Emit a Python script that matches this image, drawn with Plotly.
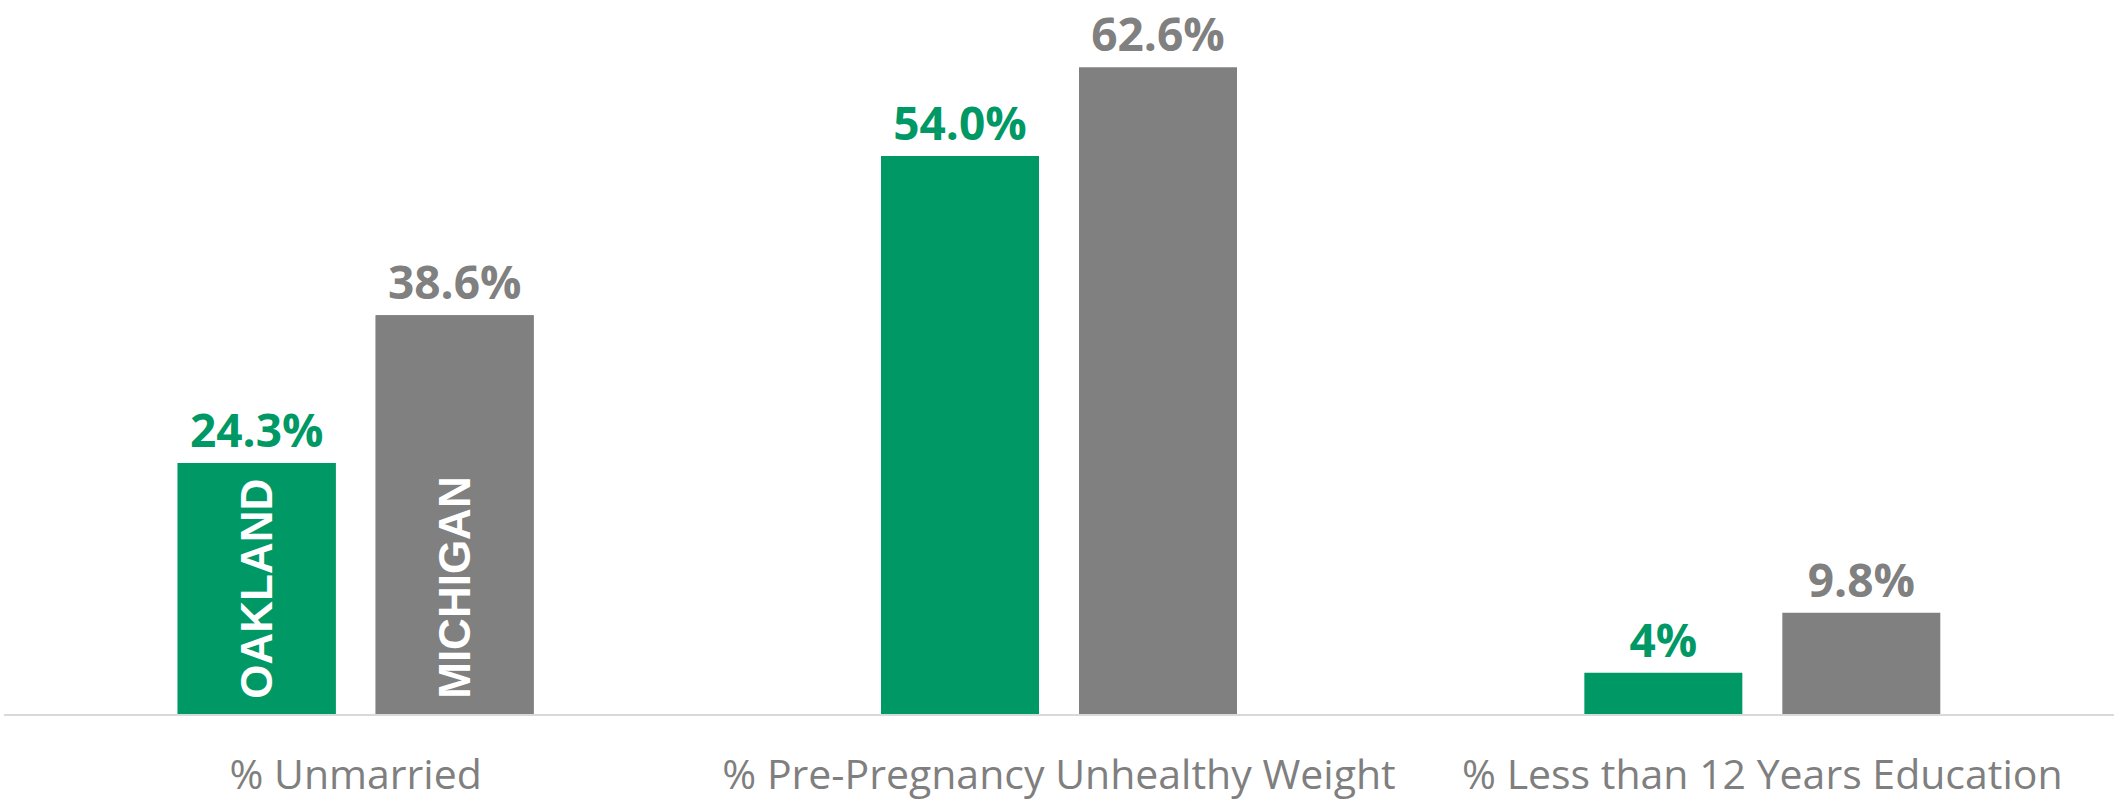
import plotly.graph_objects as go

categories = ["% Unmarried", "% Pre-Pregnancy Unhealthy Weight", "% Less than 12 Years Education"]
oakland = [24.3, 54.0, 4.0]
michigan = [38.6, 62.6, 9.8]
oakland_labels = ["24.3%", "54.0%", "4%"]
michigan_labels = ["38.6%", "62.6%", "9.8%"]
series_names = ["OAKLAND", "MICHIGAN"]

GREEN = "#009966"
GRAY = "#808080"

fig = go.Figure()

for name, vals, labels, color in [
    (series_names[0], oakland, oakland_labels, GREEN),
    (series_names[1], michigan, michigan_labels, GRAY),
]:
    fig.add_trace(go.Bar(
        x=categories, y=vals, name=name, offsetgroup=name,
        marker=dict(color=color, line=dict(width=0)),
        text=labels, textposition="outside", cliponaxis=False,
        textfont=dict(family="Open Sans", size=46, color=color),
        outsidetextfont=dict(family="Open Sans", size=46, color=color),
        texttemplate="<b>%{text}</b>",
        hoverinfo="skip", showlegend=False,
    ))
    # series name printed vertically inside the first group's bar
    fig.add_trace(go.Bar(
        x=categories[:1], y=vals[:1], name=name + " label", offsetgroup=name,
        marker=dict(color=color, line=dict(width=0)),
        text=[name], textposition="inside", insidetextanchor="start",
        textangle=-90, constraintext="none",
        insidetextfont=dict(family="Liberation Sans", size=44, color="white"),
        texttemplate="\u00a0<b>%{text}</b>",
        hoverinfo="skip", showlegend=False,
    ))

fig.update_layout(
    width=2114, height=803,
    margin=dict(l=4, r=0, t=0, b=89),
    paper_bgcolor="white", plot_bgcolor="white",
    barmode="group", bargap=0.437, bargroupgap=0.202,
    uniformtext=dict(mode=False),
    showlegend=False,
)
fig.update_xaxes(
    showline=True, linecolor="#d9d9d9", linewidth=2, automargin=False,
    showgrid=False, ticks="outside", ticklen=24, tickcolor="rgba(0,0,0,0)",
    tickfont=dict(family="Open Sans", size=41, color="#7f7f7f"),
)
fig.update_yaxes(
    range=[0, 69.1], visible=False, showgrid=False, zeroline=False,
)

fig.write_html(
    "out.html",
    config={"displayModeBar": False},
    post_script="document.body.style.margin='0';document.body.style.overflow='hidden';",
)
